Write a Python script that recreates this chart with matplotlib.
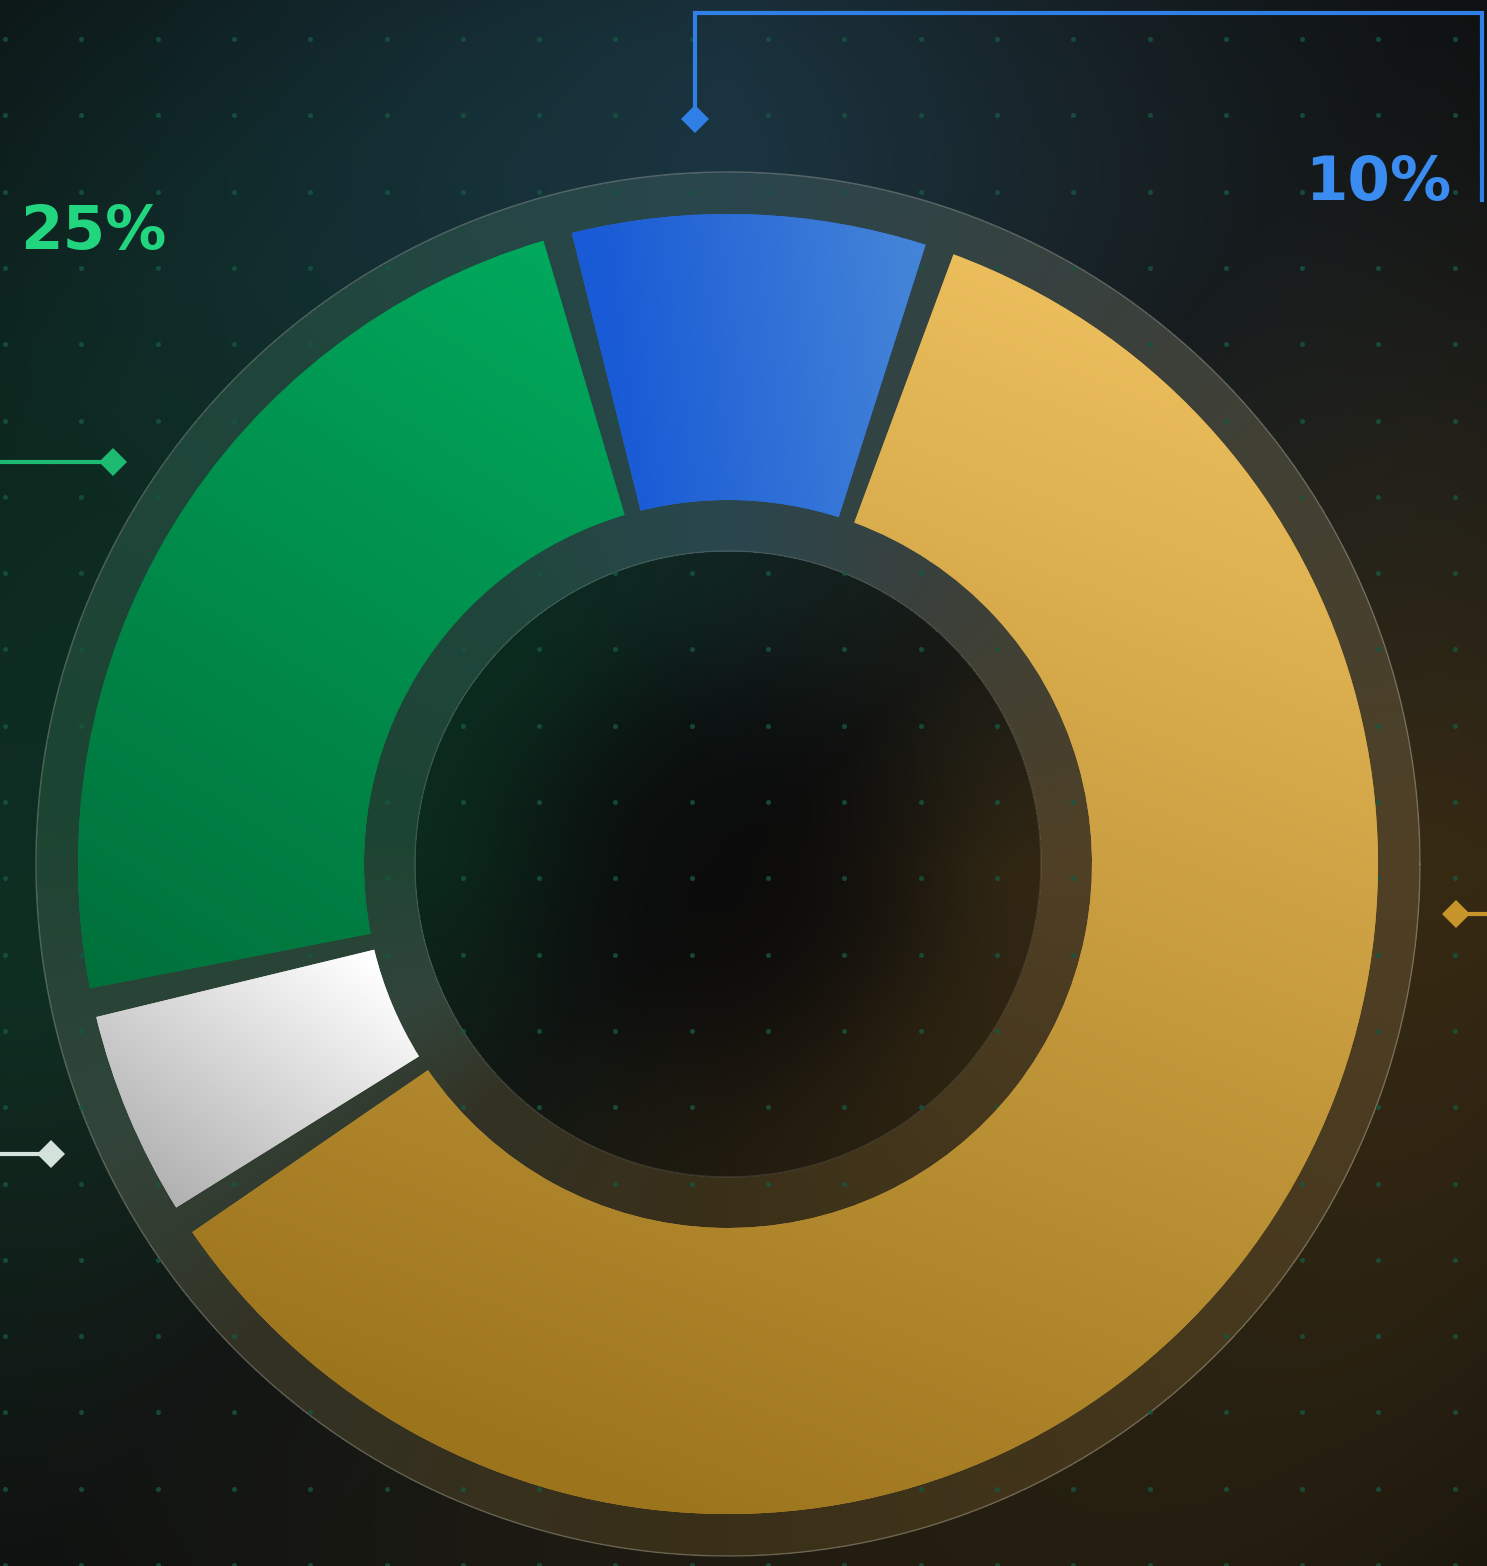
import numpy as np
import matplotlib
matplotlib.use("Agg")
import matplotlib.pyplot as plt
from matplotlib.colors import to_rgb

# ---------------- data (slice sizes as drawn, clockwise from the top) ----------------
categories = ["Blue", "Gold", "White", "Green"]
values = [9.5, 60.5, 5.8, 24.2]
labelled_categories = ["Green", "Blue"]
label_texts = ["25%", "10%"]

# ---------------- layout / style ----------------
W, H, DPI = 1487, 1566, 100
CX, CY_IMG = 728, 864
CY = H - CY_IMG
R_OUT, R_IN = 650, 364
BAND_OUT, BAND_IN = 692, 313
START_CW = -15.2      # start of first slice, degrees clockwise from north
GAP = 2.6             # angular gap between slices (deg)

seg_grad = {
    "Blue": ((600, 300), (910, 260), "#195ad6", "#4484d8"),
    "Gold": ((1100, 260), (620, 1510), "#eec05e", "#9c741c"),
    "White": ((360, 955), (180, 1205), "#ffffff", "#b2b2b2"),
    "Green": ((560, 250), (90, 990), "#00a95d", "#00703a"),
}
line_col = {"Blue": "#2f7fe6", "Gold": "#c8952b", "White": "#d3e3db", "Green": "#1dbb72"}
text_col = {"Green": "#22d680", "Blue": "#3a8cf0"}
# leader anchor: (angle clockwise from north, radius)
anchor = {"Blue": (-2.5, 746), "Green": (-56.8, 735), "White": (246.8, 737), "Gold": (93.9, 730)}

fig = plt.figure(figsize=(W / DPI, H / DPI), dpi=DPI)
ax = fig.add_axes([0, 0, 1, 1])

# ---------------- background with glow ----------------
yy, xx = np.mgrid[0:H, 0:W].astype(float)
dx = xx - CX
dyu = CY_IMG - yy
r = np.hypot(dx, dyu)
theta = np.degrees(np.arctan2(dx, dyu)) % 360


def ang_table(keys, cols):
    keys = np.asarray(keys, float)
    cols = np.asarray(cols, float)
    return np.stack([np.interp(theta, keys, cols[:, c]) for c in range(3)], -1)


out_tint = ang_table([0, 40, 90, 135, 180, 225, 260, 300, 330, 360],
                     [(16, 42, 54), (12, 18, 20), (44, 31, 8), (30, 22, 6), (22, 17, 6),
                      (8, 11, 9), (4, 36, 24), (2, 32, 22), (8, 36, 40), (16, 42, 54)])
in_tint = ang_table([0, 45, 90, 135, 180, 225, 270, 315, 360],
                    [(6, 26, 24), (12, 14, 10), (38, 28, 8), (34, 24, 6), (22, 16, 4),
                     (6, 12, 8), (0, 30, 18), (0, 32, 20), (6, 26, 24)])
band_col = ang_table([0, 40, 90, 135, 180, 225, 246, 275, 320, 360],
                     [(42, 70, 78), (60, 64, 58), (80, 64, 37), (70, 56, 29), (58, 47, 24),
                      (50, 50, 36), (50, 68, 58), (28, 68, 50), (32, 70, 60), (42, 70, 78)])
base = np.array([11, 11, 11], float)
g_out = np.exp(-((r - BAND_OUT) / 450.0) ** 2)[..., None]
g_in = np.exp(-((BAND_IN - r) / 160.0) ** 2)[..., None]
bg = np.where((r > BAND_OUT)[..., None], base + out_tint * g_out,
              np.where((r < BAND_IN)[..., None], base + in_tint * g_in, band_col))
bg = np.clip(bg, 0, 255) / 255.0
ax.imshow(bg, extent=(0, W, 0, H), origin="upper", zorder=0, interpolation="bilinear")

th = np.linspace(0, 2 * np.pi, 721)
ax.plot(CX + BAND_OUT * np.cos(th), CY + BAND_OUT * np.sin(th), color="#c8c8bc", alpha=0.35, lw=1.0, zorder=2)
ax.plot(CX + BAND_IN * np.cos(th), CY + BAND_IN * np.sin(th), color="#c8c8bc", alpha=0.16, lw=1.0, zorder=2)

# ---------------- dot grid ----------------
gx = 5 + 76.3 * np.arange(0, 20)
gy_img = 39 + 76.3 * np.arange(0, 21)
GX, GY = np.meshgrid(gx, gy_img)
ax.scatter(GX.ravel(), H - GY.ravel(), s=13, color="#175640", alpha=0.8, lw=0, zorder=2.5)

# ---------------- donut ----------------
wedges, _ = ax.pie(values, radius=R_OUT, center=(CX, CY), startangle=90 - START_CW,
                   counterclock=False, frame=True,
                   wedgeprops=dict(width=R_OUT - R_IN, linewidth=0))
ext = (CX - R_OUT - 10, CX + R_OUT + 10, CY - R_OUT - 10, CY + R_OUT + 10)
n = 400
GXX, GYY = np.meshgrid(np.linspace(ext[0], ext[1], n), np.linspace(ext[2], ext[3], n))
for cat, w in zip(categories, wedges):
    w.set_theta1(w.theta1 + GAP / 2)
    w.set_theta2(w.theta2 - GAP / 2)
    (p0x, p0y), (p1x, p1y), c0, c1 = seg_grad[cat]
    p0y, p1y = H - p0y, H - p1y
    ddx, ddy = p1x - p0x, p1y - p0y
    t = ((GXX - p0x) * ddx + (GYY - p0y) * ddy) / (ddx ** 2 + ddy ** 2)
    t = np.clip(t, 0, 1)[..., None]
    c0, c1 = np.array(to_rgb(c0)), np.array(to_rgb(c1))
    img = c0 + (c1 - c0) * t
    w.set_facecolor(tuple((c0 + c1) / 2))
    w.set_zorder(3)
    im = ax.imshow(img, extent=ext, origin="lower", zorder=3.1, interpolation="bilinear")
    im.set_clip_path(w)


# ---------------- leader lines and diamonds ----------------
def polar_pt(ang_cw, rad):
    a = np.radians(ang_cw)
    return CX + rad * np.sin(a), CY + rad * np.cos(a)


LW = 3.0
MS = 14
bx, by = polar_pt(*anchor["Blue"])
top_y = H - 13
ax.plot([bx, bx, 1482, 1482], [by, top_y, top_y, H - 200], color=line_col["Blue"], lw=LW,
        solid_joinstyle="miter", zorder=5)
ax.plot([bx], [by], marker="D", ms=MS, color=line_col["Blue"], mew=0, zorder=6)
for cat in ["Green", "White"]:
    px, py = polar_pt(*anchor[cat])
    ax.plot([0, px], [py, py], color=line_col[cat], lw=LW, zorder=5)
    ax.plot([px], [py], marker="D", ms=MS, color=line_col[cat], mew=0, zorder=6)
ox, oy = polar_pt(*anchor["Gold"])
ax.plot([ox, W], [oy, oy], color=line_col["Gold"], lw=LW, zorder=5)
ax.plot([ox], [oy], marker="D", ms=MS, color=line_col["Gold"], mew=0, zorder=6)

# ---------------- labels ----------------
label_pos = {"Green": (20, H - 249), "Blue": (1305, H - 200)}
for cat, txt in zip(labelled_categories, label_texts):
    x, y = label_pos[cat]
    ax.text(x, y, txt, color=text_col[cat], fontsize=44, fontweight="bold",
            family="DejaVu Sans", ha="left", va="baseline", zorder=7)

ax.set_xlim(0, W)
ax.set_ylim(0, H)
ax.set_aspect("auto")
ax.axis("off")
fig.savefig("out.png", dpi=DPI, facecolor="#0b0b0b")
